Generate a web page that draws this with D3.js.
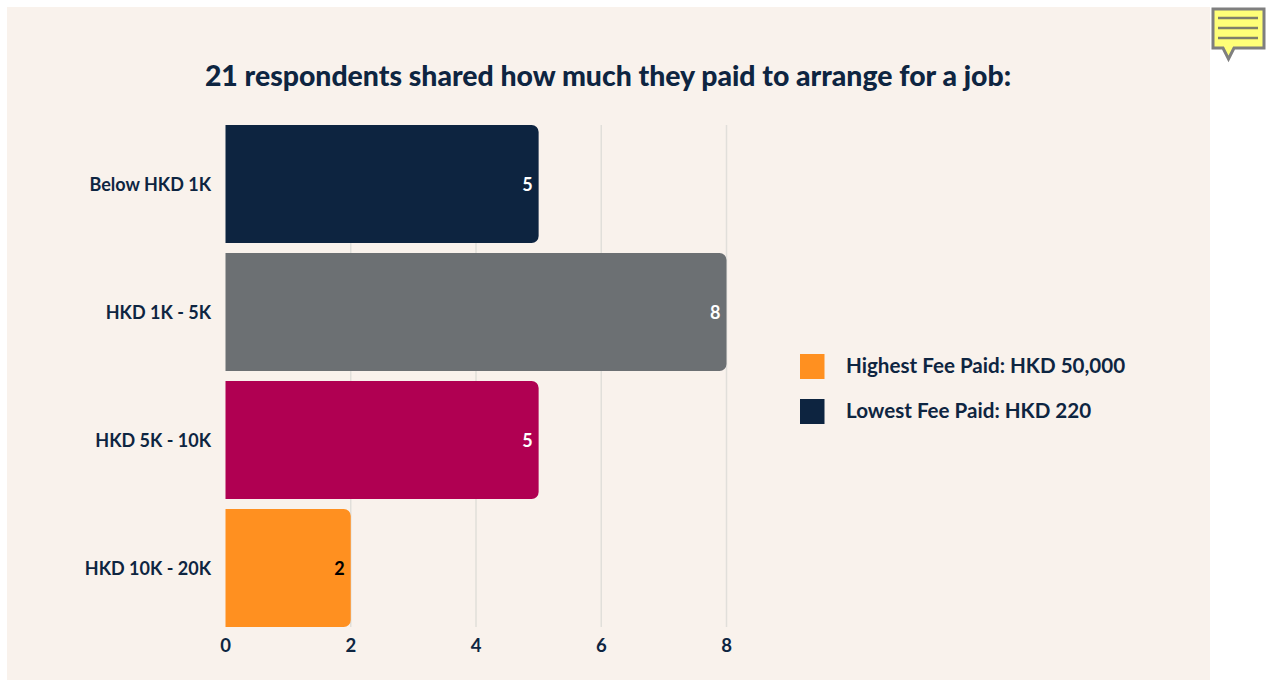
<!DOCTYPE html>
<html><head><meta charset="utf-8">
<script src="https://cdn.jsdelivr.net/npm/d3@7"></script>
<style>html,body{margin:0;padding:0;background:#fff;overflow:hidden}svg{display:block}text{font-family:Lato,sans-serif;font-weight:700;fill:#0e2541}</style>
</head><body><svg id="c" width="1268" height="680"></svg>
<script>
const categories=["Below HKD 1K","HKD 1K - 5K","HKD 5K - 10K","HKD 10K - 20K"];
const values=[5,8,5,2];
const barColors=["#0d2440","#6c7073","#b00052","#ff9020"];
const labelColors=["#ffffff","#ffffff","#ffffff","#000000"];
const xTicks=[0,2,4,6,8];
const legendLabels=["Highest Fee Paid: HKD 50,000","Lowest Fee Paid: HKD 220"];
const legendColors=["#ff9020","#0d2440"];
const titleText="21 respondents shared how much they paid to arrange for a job:";

const svg=d3.select("#c");
svg.append("rect").attr("x",7).attr("y",7).attr("width",1203).attr("height",673).attr("fill","#f9f2ec");
const x=d3.scaleLinear().domain([0,8]).range([225.5,726.5]);
const y=d3.scaleBand().domain(categories).range([120,632]).paddingInner(10/128).paddingOuter(5/128);
svg.append("text").attr("x",608).attr("y",86).attr("text-anchor","middle").attr("font-size",28.4).style("font-weight",900).text(titleText);
svg.append("g").selectAll("line").data(xTicks.slice(1)).join("line")
 .attr("x1",d=>x(d)).attr("x2",d=>x(d)).attr("y1",125).attr("y2",627).attr("stroke","#e1dfda").attr("stroke-width",1.5);
const r=7;
svg.append("g").selectAll("path").data(values).join("path")
 .attr("fill",(d,i)=>barColors[i])
 .attr("d",(d,i)=>{const p=d3.path(),x0=x(0),x1=x(d),y0=y(categories[i]),y1=y0+y.bandwidth();
  p.moveTo(x0,y0);p.lineTo(x1-r,y0);p.arcTo(x1,y0,x1,y0+r,r);p.lineTo(x1,y1-r);p.arcTo(x1,y1,x1-r,y1,r);p.lineTo(x0,y1);p.closePath();return p.toString();});
svg.append("g").selectAll("text").data(values).join("text")
 .attr("x",d=>x(d)-6).attr("y",(d,i)=>y(categories[i])+y.bandwidth()/2+6.5)
 .attr("text-anchor","end").attr("font-size",18).style("fill",(d,i)=>labelColors[i]).text(d=>d);
svg.append("g").selectAll("text").data(categories).join("text")
 .attr("x",211).attr("y",d=>y(d)+y.bandwidth()/2+6.5).attr("text-anchor","end").attr("font-size",18).text(d=>d);
const ax=svg.append("g").attr("transform","translate(-0.5,627)").call(d3.axisBottom(x).tickValues(xTicks).tickSize(0).tickPadding(12));
ax.select(".domain").remove();
ax.selectAll("text").attr("font-size",18.5).attr("font-family",null);
const leg=svg.append("g").selectAll("g").data(legendLabels).join("g").attr("transform",(d,i)=>`translate(0,${354+i*45})`);
leg.append("rect").attr("x",800).attr("width",24.5).attr("height",25).attr("fill",(d,i)=>legendColors[i]);
leg.append("text").attr("x",846).attr("y",19).attr("font-size",20.6).text(d=>d);
// note icon
const n=svg.append("g");
n.append("path").attr("d","M1213 9H1264V48H1234L1228.5 59L1223 48H1213Z").attr("fill","#ffff78").attr("stroke","#7f7f7f").attr("stroke-width",3);
n.selectAll("line").data([18,28,38]).join("line").attr("x1",1218).attr("x2",1258).attr("y1",d=>d).attr("y2",d=>d).attr("stroke","#7f7f6a").attr("stroke-width",2.5);
</script></body></html>
